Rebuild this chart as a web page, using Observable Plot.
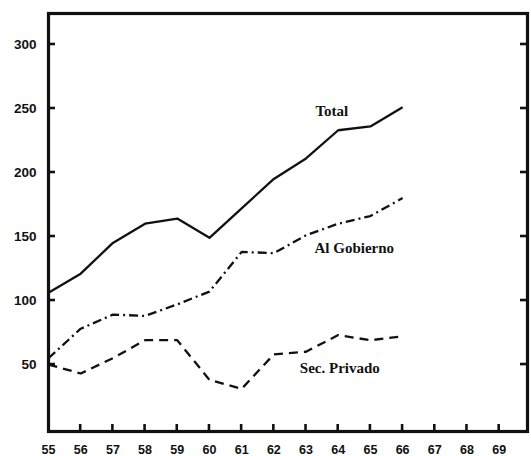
<!DOCTYPE html>
<html>
<head>
<meta charset="utf-8">
<script src="https://cdn.jsdelivr.net/npm/d3@7"></script>
<script src="https://cdn.jsdelivr.net/npm/@observablehq/plot@0.6"></script>
<style>
  body { margin: 0; background: #fff; }
  svg { font-family: "Liberation Sans", Arial, sans-serif; }
</style>
</head>
<body>
<div id="chart"></div>
<script>
const years = [55, 56, 57, 58, 59, 60, 61, 62, 63, 64, 65, 66];
const total = [106, 121, 145, 160, 164, 149, 172, 195, 211, 233, 236, 251];
const gobierno = [55, 78, 89, 88, 97, 107, 138, 137, 151, 160, 166, 180];
const privado = [50, 43, 55, 69, 69, 38, 31, 58, 60, 73, 69, 72];
const xTicks = [55, 56, 57, 58, 59, 60, 61, 62, 63, 64, 65, 66, 67, 68, 69];
const yTicks = [50, 100, 150, 200, 250, 300];
const seriesNames = ["Total", "Al Gobierno", "Sec. Privado"];
const labelX = [63.8, 64.5, 64.05];
const labelY = [248, 141, 47];

const W = 531, H = 456;
const mL = 48, mT = 13, mR = 4, mB = 25;
const xDomain = [55, 69.88];
const yDomain = [-2.3, 324.2];
const seriesValues = [total, gobierno, privado];
const dashes = [null, "9,4,2,4", "9,6"];

const marks = [];
seriesValues.forEach((vals, i) => {
  const data = years.map((y, j) => ({year: y, value: vals[j]}));
  marks.push(Plot.line(data, {
    x: "year", y: "value", stroke: "#111", strokeWidth: 2.3,
    strokeDasharray: dashes[i], strokeLinejoin: "round", strokeLinecap: "butt"
  }));
});
const labels = seriesNames.map((n, i) => ({name: n, x: labelX[i], y: labelY[i]}));
marks.push(Plot.text(labels, {
  x: "x", y: "y", text: "name", fontSize: 15, fontWeight: "bold",
  fontFamily: "Liberation Serif, serif", fill: "#111", style: "letter-spacing:1.5px"
}));
marks.push(Plot.frame({stroke: "#111", strokeWidth: 3.2}));
marks.push(Plot.axisY(yTicks, {
  anchor: "left", tickSize: 0, tickPadding: 12, fontSize: 13.5, fontWeight: "bold", fill: "#111",
  style: "letter-spacing:0.6px"
}));
marks.push(Plot.axisX(xTicks, {
  anchor: "bottom", tickSize: 0, tickPadding: 14, fontSize: 12.5, fontWeight: "bold", fill: "#111",
  style: "letter-spacing:1.5px"
}));
// inward tick marks, positioned with Plot's own scales
marks.push((index, scales) => {
  const xs = scales.x, ys = scales.y;
  const g = d3.create("svg:g").attr("stroke", "#111").attr("stroke-width", 2.6);
  const xl = xs(xDomain[0]), xr = xs(xDomain[1]), yb = ys(yDomain[0]);
  for (const v of yTicks) {
    g.append("line").attr("x1", xl).attr("x2", xl + 7).attr("y1", ys(v)).attr("y2", ys(v));
    g.append("line").attr("x1", xr - 7).attr("x2", xr).attr("y1", ys(v)).attr("y2", ys(v));
  }
  for (const v of xTicks.slice(1)) {
    g.append("line").attr("x1", xs(v)).attr("x2", xs(v)).attr("y1", yb).attr("y2", yb - 7);
  }
  return g.node();
});

const svg = Plot.plot({
  width: W,
  height: H,
  marginLeft: mL,
  marginTop: mT,
  marginRight: mR,
  marginBottom: mB,
  x: {domain: xDomain, axis: null},
  y: {domain: yDomain, axis: null},
  style: {background: "#fff", color: "#111"},
  marks
});
document.getElementById("chart").appendChild(svg);
</script>
</body>
</html>
